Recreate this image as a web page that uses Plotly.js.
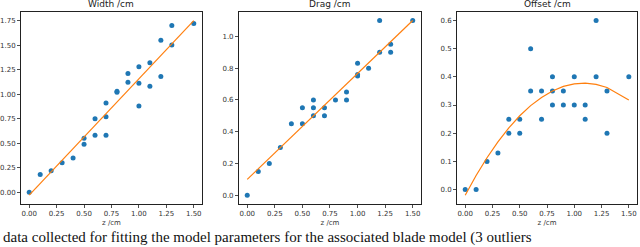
<!DOCTYPE html>
<html><head><meta charset="utf-8">
<script src="https://cdn.plot.ly/plotly-3.0.1.min.js"></script>
<style>html,body{margin:0;padding:0;background:#fff;overflow:hidden}#c{width:640px;height:247px}</style>
</head><body><div id="c"></div>
<script>
// Width panel
var zWidth = [0,0.1,0.2,0.3,0.4,0.5,0.5,0.6,0.6,0.7,0.7,0.7,0.8,0.8,0.9,0.9,1.0,1.0,1.0,1.1,1.1,1.2,1.2,1.3,1.3,1.5];
var widthVals = [0,0.18,0.22,0.30,0.35,0.55,0.49,0.75,0.58,0.91,0.77,0.58,1.03,1.02,1.21,1.12,1.28,1.11,0.88,1.32,1.08,1.55,1.18,1.70,1.50,1.72];
var widthFitX = [0,1.5];
var widthFitY = [-0.03,1.75];
// Drag panel
var zDrag = [0,0.1,0.2,0.3,0.4,0.5,0.5,0.6,0.6,0.6,0.7,0.7,0.8,0.9,0.9,1.0,1.0,1.0,1.1,1.2,1.2,1.3,1.3,1.5];
var dragVals = [0,0.15,0.20,0.30,0.45,0.55,0.45,0.60,0.55,0.50,0.55,0.50,0.60,0.65,0.60,0.83,0.76,0.75,0.80,1.10,0.90,0.95,0.90,1.10];
var dragFitX = [0,1.5];
var dragFitY = [0.10,1.10];
// Offset panel
var zOffset = [0,0.1,0.2,0.3,0.4,0.4,0.5,0.5,0.6,0.6,0.7,0.7,0.8,0.8,0.8,0.9,0.9,1.0,1.0,1.1,1.1,1.2,1.2,1.3,1.3,1.5];
var offsetVals = [0,0,0.10,0.13,0.25,0.20,0.25,0.20,0.50,0.35,0.35,0.25,0.40,0.35,0.30,0.35,0.30,0.40,0.30,0.30,0.25,0.60,0.40,0.35,0.20,0.40];
var offsetFitX = [0,0.1,0.2,0.3,0.4,0.5,0.6,0.7,0.8,0.9,1.0,1.1,1.2,1.3,1.5];
var offsetFitY = [-0.02,0.050,0.113,0.169,0.219,0.262,0.298,0.327,0.350,0.366,0.375,0.378,0.373,0.362,0.318];
var titles = ["Width /cm","Drag /cm","Offset /cm"];
var xLabel = "z /cm";
var caption = "data collected for fitting the model parameters for the associated blade model (3 outliers";

var blue = "#1f77b4", orange = "#ff7f0e";
function pts(x,y,n){return {x:x,y:y,type:"scatter",mode:"markers",marker:{color:blue,size:5},xaxis:"x"+n,yaxis:"y"+n,hoverinfo:"skip"};}
function fit(x,y,n){return {x:x,y:y,type:"scatter",mode:"lines",line:{color:orange,width:1.2},xaxis:"x"+n,yaxis:"y"+n,hoverinfo:"skip"};}
var data = [pts(zWidth,widthVals,""),fit(widthFitX,widthFitY,""),
            pts(zDrag,dragVals,"2"),fit(dragFitX,dragFitY,"2"),
            pts(zOffset,offsetVals,"3"),fit(offsetFitX,offsetFitY,"3")];
var font = "DejaVu Sans";
function xa(dom,anchor){return {domain:dom,anchor:anchor,range:[-0.075,1.575],tick0:0,dtick:0.25,tickformat:".2f",
  showline:true,mirror:true,linecolor:"#222",linewidth:1,ticks:"outside",ticklen:3,tickwidth:0.8,tickcolor:"#222",
  showgrid:false,zeroline:false,tickfont:{family:font,size:7,color:"#333"},
  title:{text:xLabel,font:{family:font,size:7,color:"#333"},standoff:2}};}
function ya(rng,dt,fmt,anchor){return {domain:[0.1741,0.9526],anchor:anchor,range:rng,tick0:0,dtick:dt,tickformat:fmt,
  showline:true,mirror:true,linecolor:"#222",linewidth:1,ticks:"outside",ticklen:3,tickwidth:0.8,tickcolor:"#222",
  showgrid:false,zeroline:false,tickfont:{family:font,size:7,color:"#333"}};}
var doms = [[0.0328,0.3156],[0.3734,0.6578],[0.7141,0.9953]];
var ann = titles.map(function(t,i){return {text:t,xref:"paper",yref:"paper",x:(doms[i][0]+doms[i][1])/2,y:0.9526,
  yanchor:"bottom",xanchor:"center",yshift:1,showarrow:false,font:{family:font,size:9,color:"#222"}};});
ann.push({text:caption,xref:"paper",yref:"paper",x:0.002,y:0,xanchor:"left",yanchor:"bottom",yshift:-1,showarrow:false,
  font:{family:"Liberation Serif",size:15,color:"#111"}});
var layout = {width:640,height:247,margin:{l:0,r:0,t:0,b:0},paper_bgcolor:"#fff",plot_bgcolor:"#fff",showlegend:false,
  xaxis:xa(doms[0],"y"),yaxis:ya([-0.12,1.84],0.25,".2f","x"),
  xaxis2:xa(doms[1],"y2"),yaxis2:ya([-0.055,1.155],0.2,".1f","x2"),
  xaxis3:xa(doms[2],"y3"),yaxis3:ya([-0.051,0.631],0.1,".1f","x3"),
  annotations:ann};
Plotly.newPlot("c",data,layout,{staticPlot:true,displayModeBar:false});
</script></body></html>
